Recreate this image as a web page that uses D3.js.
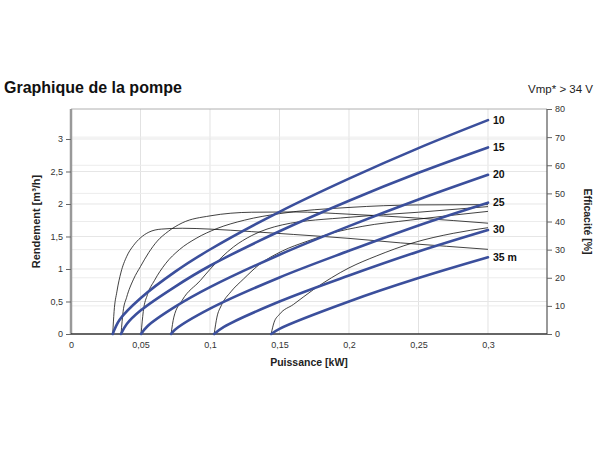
<!DOCTYPE html>
<html><head><meta charset="utf-8">
<script src="https://cdn.jsdelivr.net/npm/d3@7"></script>
<style>body{margin:0;background:#fff;}svg{display:block;font-family:"Liberation Sans",Arial,sans-serif;}</style>
</head><body>
<script>
const heads = ["10","15","20","25","30","35 m"];
// Flow curves (power kW, flow m3/h)
const flowPower = [
  [0.030,0.035,0.05,0.075,0.1,0.15,0.2,0.25,0.3],
  [0.036,0.04,0.05,0.075,0.1,0.15,0.2,0.25,0.3],
  [0.0504,0.055,0.075,0.1,0.15,0.2,0.25,0.3],
  [0.072,0.075,0.1,0.15,0.2,0.25,0.3],
  [0.103,0.11,0.15,0.2,0.25,0.3],
  [0.144,0.15,0.2,0.25,0.3]
];
const flowValues = [
  [0,0.22,0.55,0.96,1.30,1.88,2.39,2.86,3.29],
  [0,0.15,0.36,0.73,1.05,1.58,2.05,2.48,2.87],
  [0,0.12,0.42,0.72,1.22,1.66,2.07,2.45],
  [0,0.07,0.39,0.87,1.28,1.67,2.02],
  [0,0.11,0.50,0.90,1.27,1.60],
  [0,0.08,0.50,0.86,1.18]
];
// Efficiency curves (power kW, efficiency %)
const effPower = [
  [0.030,0.031,0.033,0.036,0.04,0.045,0.05,0.056,0.065,0.08,0.1,0.13,0.16,0.2,0.237,0.27,0.3],
  [0.036,0.0375,0.04,0.045,0.05,0.056,0.062,0.07,0.08,0.1,0.13,0.16,0.2,0.25,0.3],
  [0.0504,0.052,0.055,0.06,0.068,0.078,0.09,0.105,0.125,0.15,0.2,0.25,0.3],
  [0.072,0.074,0.08,0.093,0.1,0.117,0.13,0.152,0.2,0.25,0.3],
  [0.103,0.105,0.108,0.115,0.124,0.135,0.152,0.17,0.188,0.21,0.244,0.27,0.3],
  [0.144,0.146,0.15,0.16,0.175,0.2,0.22,0.246,0.275,0.3]
];
const effValues = [
  [0,8,15,22,27.5,31.5,34.2,36.2,37.3,37.6,37.3,36.4,35.4,34,32.4,31.2,30.1],
  [0,8,13,19.5,24,29,33,36.5,39.5,42,43.3,43.4,42.6,41.2,39.4],
  [0,8,14,19,25,30,34,37.5,40.5,42.8,45,45.9,46.0],
  [0,6,12,19,23,31,35,38.8,41.5,43.3,45.3],
  [0,6,10,15,19.5,24.5,29.5,33,35.9,38.3,40.5,42,43.6],
  [0,4,7,10.5,16,23.5,27.8,32.4,35.8,37.8]
];
const xTicks = [0,0.05,0.1,0.15,0.2,0.25,0.3];
const yLeftTicks = [0,0.5,1,1.5,2,2.5,3];
const yRightTicks = [0,10,20,30,40,50,60,70,80];

const W=600,H=450;
const m={l:71,r:53,t:109,b:116};
const pw=W-m.l-m.r, ph=H-m.t-m.b;
const svg=d3.select("body").append("svg").attr("width",W).attr("height",H);
const x=d3.scaleLinear().domain([0,0.34245]).range([m.l,m.l+pw]);
const yL=d3.scaleLinear().domain([0,3.4615]).range([m.t+ph,m.t]);
const yR=d3.scaleLinear().domain([0,80]).range([m.t+ph,m.t]);
const fmt=d=>String(d).replace(".",",");

// grid
const g=svg.append("g");
g.selectAll(".vg").data(xTicks.slice(1)).join("line")
 .attr("x1",d=>x(d)).attr("x2",d=>x(d)).attr("y1",m.t).attr("y2",m.t+ph)
 .attr("stroke","#e2e2e2").attr("stroke-width",1);
g.selectAll(".hl").data(yLeftTicks.slice(1)).join("line")
 .attr("x1",m.l).attr("x2",m.l+pw).attr("y1",d=>yL(d)).attr("y2",d=>yL(d))
 .attr("stroke","#e6e6e6").attr("stroke-width",1);
g.selectAll(".hr").data(yRightTicks.slice(1,-1)).join("line")
 .attr("x1",m.l).attr("x2",m.l+pw).attr("y1",d=>yR(d)).attr("y2",d=>yR(d))
 .attr("stroke","#ececec").attr("stroke-width",1);
// top border
svg.append("line").attr("x1",m.l).attr("x2",m.l+pw).attr("y1",m.t).attr("y2",m.t).attr("stroke","#b0b0b0");

// axes
const axL=svg.append("g").attr("transform",`translate(${m.l},0)`)
 .call(d3.axisLeft(yL).tickValues(yLeftTicks).tickFormat(fmt).tickSize(5).tickPadding(3));
const axR=svg.append("g").attr("transform",`translate(${m.l+pw},0)`)
 .call(d3.axisRight(yR).tickValues(yRightTicks).tickSize(5).tickPadding(3));
const axB=svg.append("g").attr("transform",`translate(0,${m.t+ph})`)
 .call(d3.axisBottom(x).tickValues(xTicks).tickFormat(fmt).tickSize(0).tickPadding(8));
[axL,axR,axB].forEach(a=>{
  a.selectAll("text").attr("font-size",9).attr("fill","#333").attr("font-family","Liberation Sans, Arial, sans-serif");
  a.selectAll(".tick line").attr("stroke","#666");
});
axL.select(".domain").attr("stroke","#999").attr("stroke-width",2.5).attr("d",`M0,${m.t}V${m.t+ph}`);
axR.select(".domain").attr("stroke","#555").attr("stroke-width",1.2).attr("d",`M0,${m.t}V${m.t+ph}`);
axB.select(".domain").attr("stroke","#333").attr("stroke-width",1.5).attr("d",`M${m.l},0H${m.l+pw}`);

// efficiency thin lines
const lineE=d3.line().curve(d3.curveMonotoneX);
effPower.forEach((ps,i)=>{
  svg.append("path").attr("d",lineE(ps.map((p,j)=>[x(p),yR(effValues[i][j])])))
   .attr("fill","none").attr("stroke","#111").attr("stroke-width",0.8);
});
// flow blue lines
const lineF=d3.line().curve(d3.curveCatmullRom.alpha(0.5));
flowPower.forEach((ps,i)=>{
  svg.append("path").attr("d",lineF(ps.map((p,j)=>[x(p),yL(flowValues[i][j])])))
   .attr("fill","none").attr("stroke","#3b4f9c").attr("stroke-width",2.6).attr("stroke-linecap","round");
  const last=ps.length-1;
  svg.append("text").attr("x",x(ps[last])+5).attr("y",yL(flowValues[i][last])+3.5)
   .attr("font-size",10.5).attr("font-weight","bold").attr("fill","#111").text(heads[i]);
});

// titles
svg.append("text").attr("x",4).attr("y",93).attr("font-size",16).attr("font-weight","bold").attr("fill","#111").text("Graphique de la pompe");
svg.append("text").attr("x",593).attr("y",93).attr("text-anchor","end").attr("font-size",11.5).attr("fill","#222").text("Vmp* > 34 V");
svg.append("text").attr("x",m.l+pw/2).attr("y",366).attr("text-anchor","middle").attr("font-size",10.5).attr("font-weight","bold").attr("fill","#222").text("Puissance [kW]");
svg.append("text").attr("transform",`translate(40,${m.t+ph/2}) rotate(-90)`).attr("text-anchor","middle").attr("font-size",11).attr("font-weight","bold").attr("fill","#222").text("Rendement [m³/h]");
svg.append("text").attr("transform",`translate(584,${m.t+ph/2}) rotate(90)`).attr("text-anchor","middle").attr("font-size",10.5).attr("font-weight","bold").attr("fill","#222").text("Efficacité [%]");
</script>
</body></html>
